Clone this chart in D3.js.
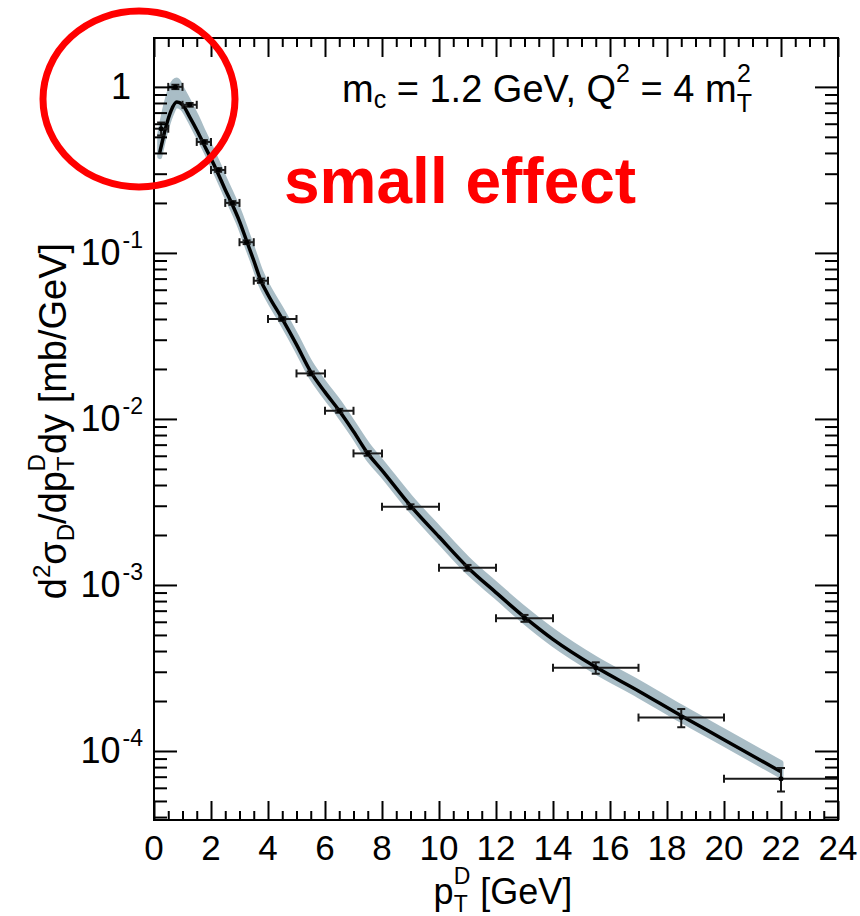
<!DOCTYPE html>
<html>
<head>
<meta charset="utf-8">
<script src="https://cdn.jsdelivr.net/npm/d3@7"></script>
<style>
  body { margin: 0; background: #fff; }
  svg { display: block; font-family: "Liberation Sans", Arial, sans-serif; }
</style>
</head>
<body>
<div id="chart"></div>
<script>
// measured D meson points: bin centre, bin edges, value, error
var dataPt  = [0.25, 0.75, 1.25, 1.75, 2.25, 2.75, 3.25, 3.75, 4.5, 5.5, 6.5, 7.5, 9, 11, 13, 15.5, 18.5, 22];
var dataLo  = [0, 0.5, 1, 1.5, 2, 2.5, 3, 3.5, 4, 5, 6, 7, 8, 10, 12, 14, 17, 20];
var dataHi  = [0.5, 1, 1.5, 2, 2.5, 3, 3.5, 4, 5, 6, 7, 8, 10, 12, 14, 17, 20, 24];
var dataVal = [0.56, 1.0, 0.78, 0.466, 0.316, 0.20, 0.116, 0.068, 0.040, 0.0188, 0.0112, 0.0062,
               0.00296, 0.00127, 0.00063, 0.000317, 0.000159, 0.000068];
var dataErr = [0.05, 0.03, 0.02, 0.012, 0.008, 0.005, 0.003, 0.002, 0.001, 0.0005, 0.0003, 0.0002,
               0.0001, 0.00005, 0.00003, 0.000025, 0.00002, 0.000011];

// theory curve (central) and its uncertainty band
var thPt  = [0.2, 0.4, 0.6, 0.8, 1.0, 1.25, 1.5, 1.75, 2.0, 2.25, 2.5, 2.75, 3.0, 3.25, 3.5, 3.75, 4.0,
             4.5, 5.0, 5.5, 6.0, 6.5, 7.0, 7.5, 8.0, 9.0, 10, 11, 12, 13, 14, 15.5, 17, 18.5, 20, 22];
var thMid = [0.40, 0.56, 0.72, 0.81, 0.78, 0.66, 0.55, 0.45, 0.37, 0.30, 0.24, 0.195, 0.155, 0.118, 0.09,
             0.068, 0.056, 0.040, 0.028, 0.0192, 0.0145, 0.0112, 0.0084, 0.0062, 0.0049, 0.0030, 0.00195,
             0.00128, 0.00090, 0.00064, 0.00047, 0.00032, 0.00023, 0.000163, 0.000117, 0.000075];
var thHi  = [0.52, 0.76, 1.00, 1.10, 0.96, 0.80, 0.66, 0.53, 0.43, 0.345, 0.275, 0.222, 0.176, 0.134, 0.102,
             0.077, 0.063, 0.045, 0.0315, 0.0216, 0.0163, 0.0126, 0.0094, 0.0070, 0.0055, 0.00337, 0.00219,
             0.00144, 0.00101, 0.00072, 0.00053, 0.00036, 0.00026, 0.000184, 0.000132, 0.000085];
var thLo  = [0.38, 0.53, 0.68, 0.77, 0.74, 0.63, 0.52, 0.43, 0.35, 0.283, 0.226, 0.183, 0.146, 0.111, 0.085,
             0.064, 0.0527, 0.0376, 0.0263, 0.018, 0.0136, 0.0105, 0.0079, 0.0058, 0.0046, 0.00282, 0.00183,
             0.0012, 0.00085, 0.0006, 0.00044, 0.0003, 0.000216, 0.000153, 0.00011, 0.0000705];

// tick labels
var xTicks = [0, 2, 4, 6, 8, 10, 12, 14, 16, 18, 20, 22, 24];
var yTicks = [1e-4, 1e-3, 1e-2, 1e-1, 1];
var yTickExp = ["-4", "-3", "-2", "-1", ""];

var W = 860, H = 916;
var plotL = 154, plotR = 838, plotT = 38, plotB = 820;

var svg = d3.select("#chart").append("svg")
  .attr("width", W).attr("height", H);

var x = d3.scaleLinear().domain([0, 24]).range([plotL, plotR]);
var y = d3.scaleLog().domain([3.84e-5, 1.97]).range([plotB, plotT]);

// band (stroked in its own colour so it reads as wide as the original)
var band = thPt.map(function(p, i) { return {x: p, lo: thLo[i], hi: thHi[i], m: thMid[i]}; });
svg.append("path")
  .datum(band)
  .attr("fill", "#a9bdc6")
  .attr("stroke", "#a9bdc6")
  .attr("stroke-width", 5)
  .attr("stroke-linejoin", "round")
  .attr("d", d3.area()
    .x(function(d) { return x(d.x); })
    .y0(function(d) { return y(d.lo); })
    .y1(function(d) { return y(d.hi); })
    .curve(d3.curveMonotoneX));

// central line
svg.append("path")
  .datum(band)
  .attr("fill", "none")
  .attr("stroke", "#000")
  .attr("stroke-width", 3.5)
  .attr("stroke-linejoin", "round")
  .attr("d", d3.line()
    .x(function(d) { return x(d.x); })
    .y(function(d) { return y(d.m); })
    .curve(d3.curveMonotoneX));

// data points with error bars
var pts = dataPt.map(function(p, i) {
  return {x: p, lo: dataLo[i], hi: dataHi[i], v: dataVal[i], e: dataErr[i]};
});
var g = svg.append("g").attr("stroke", "#1a1a1a").attr("stroke-width", 2);
pts.forEach(function(d) {
  var yy = y(d.v);
  g.append("line").attr("x1", x(d.lo)).attr("x2", x(d.hi)).attr("y1", yy).attr("y2", yy);
  g.append("line").attr("x1", x(d.lo)).attr("x2", x(d.lo)).attr("y1", yy - 4).attr("y2", yy + 4);
  g.append("line").attr("x1", x(d.hi)).attr("x2", x(d.hi)).attr("y1", yy - 4).attr("y2", yy + 4);
  var y1 = y(d.v + d.e), y2 = y(d.v - d.e);
  g.append("line").attr("x1", x(d.x)).attr("x2", x(d.x)).attr("y1", y1).attr("y2", y2);
  g.append("line").attr("x1", x(d.x) - 4).attr("x2", x(d.x) + 4).attr("y1", y1).attr("y2", y1);
  g.append("line").attr("x1", x(d.x) - 4).attr("x2", x(d.x) + 4).attr("y1", y2).attr("y2", y2);
  g.append("circle").attr("cx", x(d.x)).attr("cy", yy).attr("r", 2.5).attr("fill", "#000").attr("stroke", "none");
});

// axes: major + minor ticks on all four sides, pointing inward
var xMinor = d3.range(0, 24.01, 0.5).filter(function(v) { return v % 2 !== 0; });
var yMinor = [];
for (var k = -5; k <= 0; k++) {
  for (var m = 2; m <= 9; m++) {
    var v = m * Math.pow(10, k);
    if (v > 3.84e-5 && v < 1.97) yMinor.push(v);
  }
}

function cleanAxis(sel) {
  sel.select(".domain").remove();
  sel.selectAll("line").attr("stroke", "#000").attr("stroke-width", 2);
}

svg.append("g").attr("transform", "translate(0," + plotB + ")")
  .call(d3.axisBottom(x).tickValues(xTicks).tickSize(-19).tickSizeOuter(0).tickFormat(""))
  .call(cleanAxis);
svg.append("g").attr("transform", "translate(0," + plotB + ")")
  .call(d3.axisBottom(x).tickValues(xMinor).tickSize(-9).tickSizeOuter(0).tickFormat(""))
  .call(cleanAxis);
svg.append("g").attr("transform", "translate(0," + plotT + ")")
  .call(d3.axisTop(x).tickValues(xTicks).tickSize(-19).tickSizeOuter(0).tickFormat(""))
  .call(cleanAxis);
svg.append("g").attr("transform", "translate(0," + plotT + ")")
  .call(d3.axisTop(x).tickValues(xMinor).tickSize(-9).tickSizeOuter(0).tickFormat(""))
  .call(cleanAxis);

svg.append("g").attr("transform", "translate(" + plotL + ",0)")
  .call(d3.axisLeft(y).tickValues(yTicks).tickSize(-23).tickSizeOuter(0).tickFormat(""))
  .call(cleanAxis);
svg.append("g").attr("transform", "translate(" + plotL + ",0)")
  .call(d3.axisLeft(y).tickValues(yMinor).tickSize(-13).tickSizeOuter(0).tickFormat(""))
  .call(cleanAxis);
svg.append("g").attr("transform", "translate(" + plotR + ",0)")
  .call(d3.axisRight(y).tickValues(yTicks).tickSize(-23).tickSizeOuter(0).tickFormat(""))
  .call(cleanAxis);
svg.append("g").attr("transform", "translate(" + plotR + ",0)")
  .call(d3.axisRight(y).tickValues(yMinor).tickSize(-13).tickSizeOuter(0).tickFormat(""))
  .call(cleanAxis);

// frame
svg.append("rect")
  .attr("x", plotL).attr("y", plotT)
  .attr("width", plotR - plotL).attr("height", plotB - plotT)
  .attr("fill", "none").attr("stroke", "#000").attr("stroke-width", 2);

// x tick labels
svg.append("g").selectAll("text")
  .data(xTicks).enter().append("text")
  .attr("x", function(d) { return x(d); })
  .attr("y", 860)
  .attr("text-anchor", "middle")
  .attr("font-size", 35)
  .text(function(d) { return d; });

// y tick labels
yTicks.forEach(function(t, i) {
  var txt = svg.append("text")
    .attr("y", y(t) + 12)
    .attr("font-size", 36)
    .attr("text-anchor", "end");
  if (yTickExp[i] === "") {
    txt.attr("x", 131).text("1");
  } else {
    txt.attr("x", 143);
    txt.append("tspan").text("10");
    txt.append("tspan").attr("dx", 2).attr("dy", -17).attr("font-size", 23).text(yTickExp[i]);
  }
});

// x axis title
var xt = svg.append("text")
  .attr("x", 503).attr("y", 904)
  .attr("text-anchor", "middle")
  .attr("font-size", 36);
xt.append("tspan").text("p");
xt.append("tspan").attr("font-size", 23).attr("dy", 8).text("T");
xt.append("tspan").attr("font-size", 23).attr("dx", -14).attr("dy", -28).text("D");
xt.append("tspan").attr("dy", 20).text(" [GeV]");

// y axis title
var yt = svg.append("text")
  .attr("transform", "translate(66,421) rotate(-90)")
  .attr("text-anchor", "middle")
  .attr("font-size", 38);
yt.append("tspan").text("d");
yt.append("tspan").attr("font-size", 24).attr("dy", -16).text("2");
yt.append("tspan").attr("dy", 16).text("σ");
yt.append("tspan").attr("font-size", 24).attr("dy", 8).text("D");
yt.append("tspan").attr("dy", -8).text("/dp");
yt.append("tspan").attr("font-size", 24).attr("dy", 8).text("T");
yt.append("tspan").attr("font-size", 24).attr("dx", -15).attr("dy", -29).text("D");
yt.append("tspan").attr("dy", 21).text("dy [mb/GeV]");

// annotation
var an = svg.append("text")
  .attr("x", 342).attr("y", 102)
  .attr("font-size", 38);
an.append("tspan").text("m");
an.append("tspan").attr("font-size", 25).attr("dy", 6).text("c");
an.append("tspan").attr("dy", -6).text(" = 1.2 GeV, Q");
an.append("tspan").attr("font-size", 25).attr("dy", -20).text("2");
an.append("tspan").attr("dy", 20).text(" = 4 m");
an.append("tspan").attr("font-size", 25).attr("dy", 10).text("T");
an.append("tspan").attr("font-size", 25).attr("dx", -15).attr("dy", -30).text("2");

svg.append("text")
  .attr("x", 284).attr("y", 203)
  .attr("font-size", 64)
  .attr("font-weight", "bold")
  .attr("fill", "#ff0000")
  .text("small effect");

// red highlight ellipse
svg.append("ellipse")
  .attr("cx", 139).attr("cy", 99)
  .attr("rx", 96).attr("ry", 88)
  .attr("fill", "none")
  .attr("stroke", "#ff0000")
  .attr("stroke-width", 7);
</script>
</body>
</html>
